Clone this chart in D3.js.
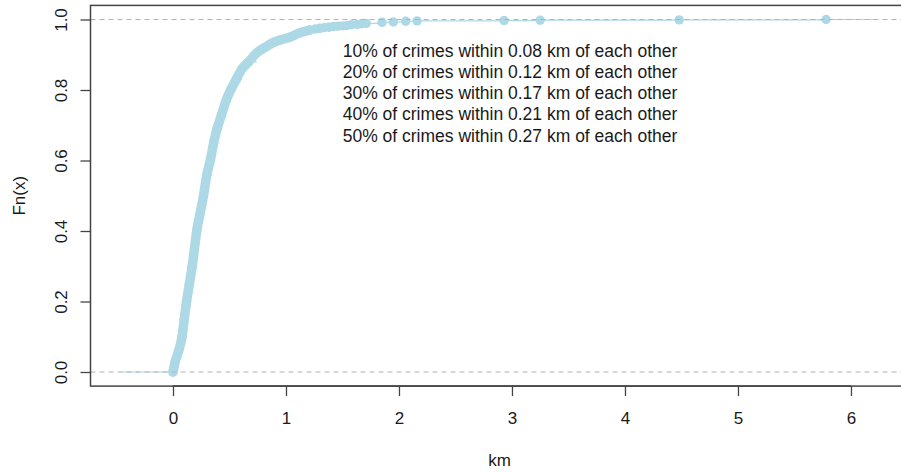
<!DOCTYPE html>
<html>
<head>
<meta charset="utf-8">
<script src="https://cdn.jsdelivr.net/npm/d3@7"></script>
<style>
  body { margin: 0; background: #fff; }
  svg text { font-family: "Liberation Sans", Arial, sans-serif; fill: #1a1a1a; }
</style>
</head>
<body>
<div id="chart"></div>
<script>
// ecdf of distances between crimes (km)
var kmDense = [0.00, 0.02, 0.05, 0.08, 0.10, 0.12, 0.145, 0.17, 0.19, 0.21, 0.24, 0.27,
               0.30, 0.33, 0.36, 0.39, 0.43, 0.47, 0.51, 0.56, 0.61, 0.67, 0.74, 0.81,
               0.89, 0.96, 1.035, 1.12, 1.21];
var fnDense = [0.000, 0.03, 0.06, 0.10, 0.15, 0.20, 0.25, 0.30, 0.35, 0.40, 0.45, 0.50,
               0.56, 0.60, 0.65, 0.69, 0.73, 0.77, 0.80, 0.83, 0.86, 0.88, 0.905, 0.92,
               0.935, 0.943, 0.95, 0.962, 0.970];
var kmTail = [1.26, 1.30, 1.34, 1.38, 1.42, 1.46, 1.50, 1.54, 1.58, 1.63, 1.67, 1.71,
              1.85, 1.95, 2.06, 2.16, 2.93, 3.25, 4.48, 5.78];
var fnTail = [0.973, 0.975, 0.977, 0.978, 0.980, 0.981, 0.982, 0.983, 0.985, 0.986, 0.988, 0.989,
              0.992, 0.993, 0.995, 0.996, 0.997, 0.998, 0.999, 1.0];

var xTicks = [0, 1, 2, 3, 4, 5, 6];
var yTicks = [0, 0.2, 0.4, 0.6, 0.8, 1.0];

var pctLevels = [10, 20, 30, 40, 50];
var pctKm = ["0.08", "0.12", "0.17", "0.21", "0.27"];

var width = 901, height = 472;
var ptColor = "#ADD8E6";

var svg = d3.select("#chart")
    .append("svg")
    .attr("width", width)
    .attr("height", height);

var x = d3.scaleLinear().domain([-0.73, 6.51]).range([90.5, 908.6]);
var y = d3.scaleLinear().domain([-0.04, 1.04]).range([386.1, 5.4]);

var kmAll = kmDense.concat(kmTail);
var fnAll = fnDense.concat(fnTail);
var pts = kmAll.map(function(k, i) { return {km: k, fn: fnAll[i]}; });

// step segments (R plot.stepfun, verticals = FALSE)
var segs = [{x0: -0.462, x1: kmAll[0], fn: 0}];
pts.forEach(function(p, i) {
  var nx = i < pts.length - 1 ? pts[i + 1].km : 6.24;
  segs.push({x0: p.km, x1: nx, fn: p.fn});
});
svg.selectAll(".step")
    .data(segs)
    .enter()
    .append("line")
    .attr("x1", function(d) { return x(d.x0); })
    .attr("x2", function(d) { return x(d.x1); })
    .attr("y1", function(d) { return y(d.fn); })
    .attr("y2", function(d) { return y(d.fn); })
    .attr("stroke", ptColor)
    .attr("stroke-width", 1.2);

// the dense part of the curve looks like one thick stroke
var line = d3.line()
    .x(function(d) { return x(d.km); })
    .y(function(d) { return y(d.fn); })
    .curve(d3.curveMonotoneX);
svg.append("path")
    .datum(pts.slice(0, kmDense.length))
    .attr("d", line)
    .attr("fill", "none")
    .attr("stroke", ptColor)
    .attr("stroke-width", 9.5)
    .attr("stroke-linecap", "round");

svg.selectAll(".pt")
    .data(pts)
    .enter()
    .append("circle")
    .attr("cx", function(d) { return x(d.km); })
    .attr("cy", function(d) { return y(d.fn); })
    .attr("r", 4.7)
    .attr("fill", ptColor);

// dashed reference lines at 0 and 1
svg.selectAll(".href")
    .data([0, 1])
    .enter()
    .append("line")
    .attr("x1", x(-0.73))
    .attr("x2", x(6.51))
    .attr("y1", function(d) { return y(d); })
    .attr("y2", function(d) { return y(d); })
    .attr("stroke", "#b3b3b3")
    .attr("stroke-width", 1)
    .attr("stroke-dasharray", "5,4");

// box
svg.append("rect")
    .attr("x", x(-0.73))
    .attr("y", y(1.04))
    .attr("width", x(6.51) - x(-0.73))
    .attr("height", y(-0.04) - y(1.04))
    .attr("fill", "none")
    .attr("stroke", "#444")
    .attr("stroke-width", 1.5);

// x axis
var xAxis = d3.axisBottom(x).tickValues(xTicks).tickSize(10).tickSizeOuter(0).tickPadding(16)
    .tickFormat(d3.format("d"));
var gx = svg.append("g")
    .attr("transform", "translate(0," + y(-0.04) + ")")
    .call(xAxis);
gx.select(".domain").attr("stroke", "#444").attr("stroke-width", 1.5)
    .attr("d", "M" + x(0) + ",0H" + x(6));
gx.selectAll(".tick line").attr("stroke", "#444").attr("stroke-width", 1.3);
gx.selectAll(".tick text").attr("font-size", 17).attr("fill", "#1a1a1a")
    .attr("font-family", "Liberation Sans, Arial, sans-serif");

// y axis
var yAxis = d3.axisLeft(y).tickValues(yTicks).tickSize(10).tickSizeOuter(0)
    .tickFormat(d3.format(".1f"));
var gy = svg.append("g")
    .attr("transform", "translate(" + x(-0.73) + ",0)")
    .call(yAxis);
gy.select(".domain").remove();
gy.selectAll(".tick line").attr("stroke", "#444").attr("stroke-width", 1.3);
gy.selectAll(".tick text")
    .attr("font-size", 17).attr("fill", "#1a1a1a")
    .attr("font-family", "Liberation Sans, Arial, sans-serif")
    .attr("x", null).attr("dy", null)
    .attr("text-anchor", "middle")
    .attr("transform", "translate(-24,0) rotate(-90)");

// axis titles
svg.append("text")
    .attr("x", (x(-0.73) + x(6.51)) / 2)
    .attr("y", 466)
    .attr("text-anchor", "middle")
    .attr("font-size", 17)
    .text("km");
svg.append("text")
    .attr("transform", "translate(25," + (y(-0.04) + y(1.04)) / 2 + ") rotate(-90)")
    .attr("text-anchor", "middle")
    .attr("font-size", 17)
    .text("Fn(x)");

// annotation block
svg.selectAll(".note")
    .data(pctLevels)
    .enter()
    .append("text")
    .attr("x", 510)
    .attr("y", function(d, i) { return 56.5 + i * 21.3; })
    .attr("text-anchor", "middle")
    .attr("font-size", 17.5)
    .text(function(d, i) { return d + "% of crimes within " + pctKm[i] + " km of each other"; });
</script>
</body>
</html>
